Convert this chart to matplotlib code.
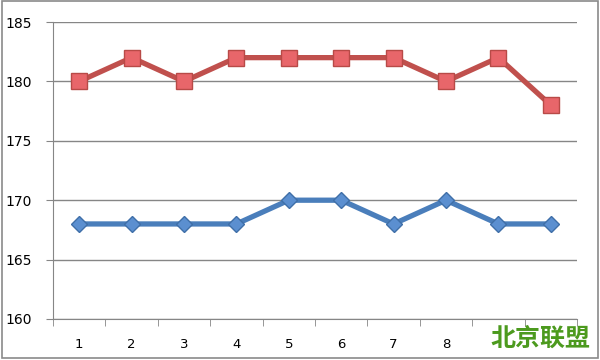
import matplotlib.pyplot as plt
from matplotlib.patches import Rectangle

categories = [1, 2, 3, 4, 5, 6, 7, 8, 9, 10]
tick_labels = ['1', '2', '3', '4', '5', '6', '7', '8', '', '']
red_values = [180, 182, 180, 182, 182, 182, 182, 180, 182, 178]
blue_values = [168, 168, 168, 168, 170, 170, 168, 170, 168, 168]

fig = plt.figure(figsize=(6, 3.6), dpi=100)
ax = fig.add_axes([53 / 600, 41 / 360, 524 / 600, 297 / 360])

ax.plot(categories, red_values, color='#C0504D', lw=3.8, marker='s', ms=11.5,
        mfc='#E8666A', mec='#B84A47', mew=1, zorder=3)
ax.plot(categories, blue_values, color='#4A7EBB', lw=3.8, marker='D', ms=8.5,
        mfc='#5B8FD0', mec='#3F6FA8', mew=1, zorder=3)

ax.set_ylim(160, 185)
ax.set_yticks([160, 165, 170, 175, 180, 185])
ax.set_xlim(0.5, 10.5)
ax.set_xticks(categories)
ax.set_xticklabels(tick_labels)
ax.set_xticks([c + 0.5 for c in range(0, 11)], minor=True)
ax.tick_params(axis='x', which='major', length=0, pad=14, labelsize=9.5)
ax.tick_params(axis='x', which='minor', length=5, color='#868686', direction='out')
ax.tick_params(axis='y', length=5, color='#868686', pad=10, labelsize=10)
ax.yaxis.grid(True, color='#868686', lw=1)
ax.set_axisbelow(True)
for s in ['top', 'right']:
    ax.spines[s].set_visible(False)
for s in ['left', 'bottom']:
    ax.spines[s].set_color('#868686')

fig.text(540 / 600, 1 - 339 / 360, '北京联盟', color='#4C9A1E', fontsize=18,
         fontweight='bold', family=['Noto Sans CJK SC', 'DejaVu Sans'],
         ha='center', va='center')

fig.patches.append(Rectangle((0.003, 0.006), 0.994, 0.99, transform=fig.transFigure,
                             fill=False, ec='#8a8a8a', lw=1.2))

fig.savefig('out.png', dpi=100)
